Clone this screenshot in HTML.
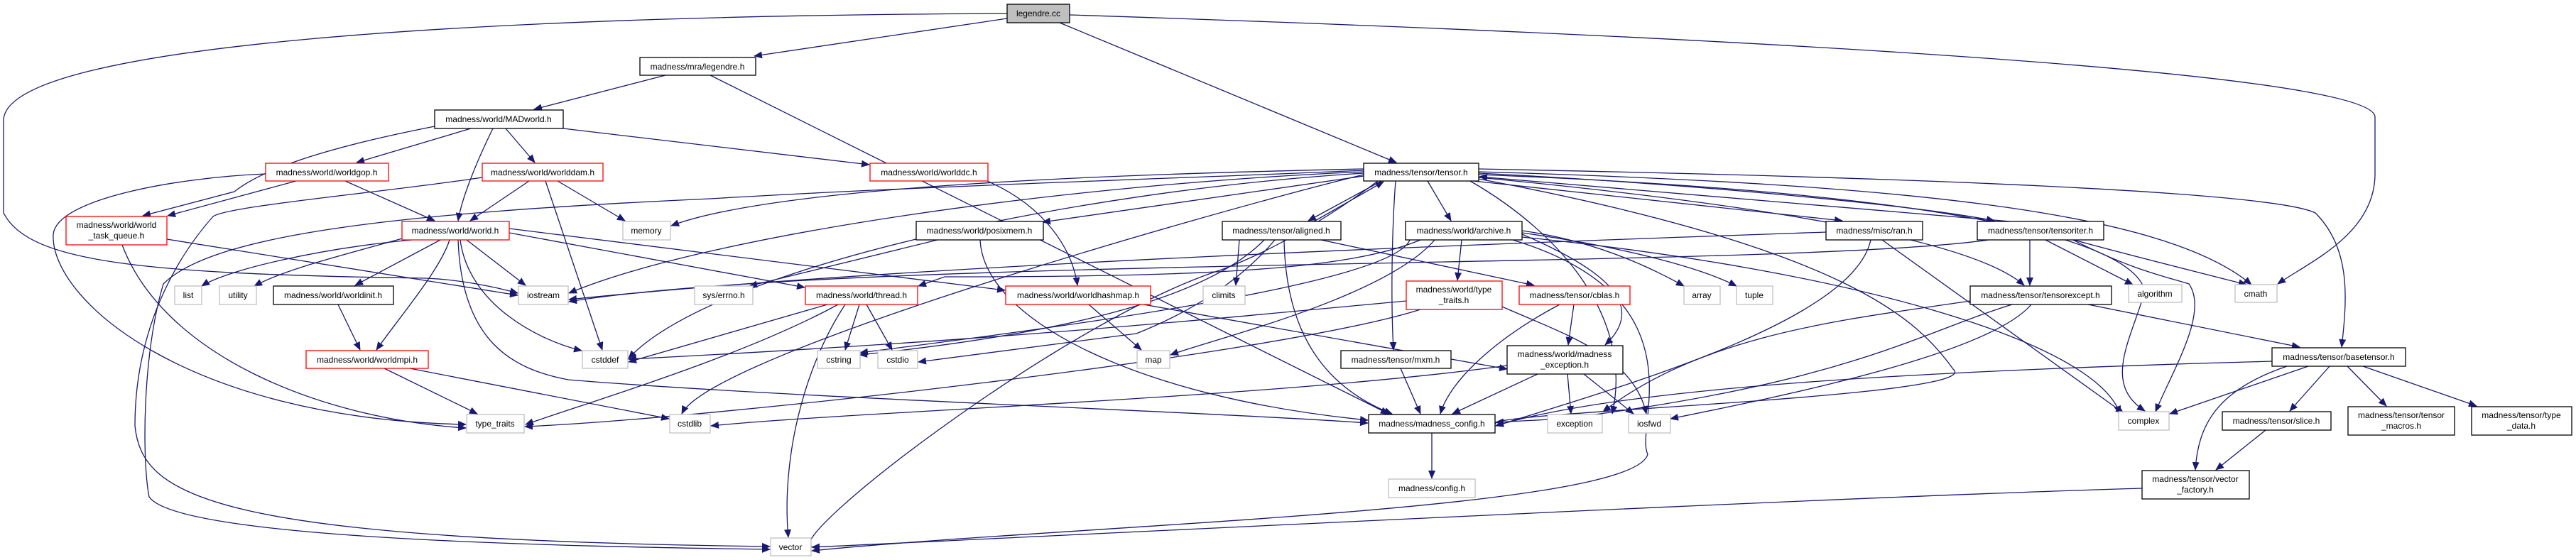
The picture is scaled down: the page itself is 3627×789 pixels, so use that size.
<!DOCTYPE html>
<html><head><meta charset="utf-8"><style>
html,body{margin:0;padding:0;background:#fff;}
svg{display:block;}
text{font-family:"Liberation Sans",sans-serif;font-size:12px;fill:#000;text-anchor:middle;}
.e{fill:none;stroke:#191970;stroke-width:1.3;marker-end:url(#a);}
.n{fill:#fff;stroke:#000;stroke-width:1.3;}
.r{fill:#fff;stroke:#ff0000;stroke-width:1.3;}
.g{fill:#fff;stroke:#bfbfbf;stroke-width:1.3;}
</style></head><body>
<svg width="3627" height="789" viewBox="0 0 3627 789" xmlns="http://www.w3.org/2000/svg">
<defs><marker id="a" markerUnits="userSpaceOnUse" markerWidth="12" markerHeight="10" refX="11" refY="5" orient="auto"><path d="M0,0 L12,5 L0,10 z" fill="#191970"/></marker></defs>
<g>
<path class="e" d="M1418,26 L1062,79"/>
<path class="e" d="M1492,32 L1966,229"/>
<path class="e" d="M1418,19 C700,22 5,60 5,170 L5,300 C40,370 200,386 600,392 C650,394 700,405 729,413"/>
<path class="e" d="M1506,21 C2400,50 3344,100 3344,165 L3344,245 C3344,330 3250,370 3207,400"/>
<path class="e" d="M937,106 L752,154"/>
<path class="e" d="M1000,106 L1955,583"/>
<path class="e" d="M663,181 L502,229"/>
<path class="e" d="M712,181 L753,229"/>
<path class="e" d="M694,181 C670,230 650,280 645,311"/>
<path class="e" d="M612,178 C500,200 380,230 330,270 L201,304"/>
<path class="e" d="M793,181 L1224,232"/>
<path class="e" d="M417,255 L236,304"/>
<path class="e" d="M486,255 L612,311"/>
<path class="e" d="M374,245 C250,250 80,280 75,330 C70,420 260,590 656,598"/>
<path class="e" d="M745,255 L662,311"/>
<path class="e" d="M785,255 L880,311"/>
<path class="e" d="M768,255 L848,493"/>
<path class="e" d="M679,250 C550,270 320,290 300,305 C260,350 190,450 190,600 C200,700 300,760 1084,770"/>
<path class="e" d="M235,337 L729,416"/>
<path class="e" d="M172,345 C230,500 450,590 656,603"/>
<path class="e" d="M580,338 C450,350 320,380 284,403"/>
<path class="e" d="M570,335 C480,360 400,380 358,403"/>
<path class="e" d="M620,338 L500,402"/>
<path class="e" d="M633,338 C620,380 560,450 530,493"/>
<path class="e" d="M657,338 L740,402"/>
<path class="e" d="M648,338 C660,430 760,480 819,494"/>
<path class="e" d="M645,338 C650,480 720,520 800,535 C1100,560 1700,580 1926,596"/>
<path class="e" d="M717,328 L1133,405"/>
<path class="e" d="M717,322 L1415,409"/>
<path class="e" d="M476,429 L507,493"/>
<path class="e" d="M541,519 L672,583"/>
<path class="e" d="M577,519 L942,590"/>
<path class="e" d="M1390,255 C1470,290 1510,350 1517,402"/>
<path class="e" d="M1920,240 C1700,250 1300,262 1000,280 C560,300 300,330 230,400 C200,500 200,650 210,700 C250,760 800,770 1084,774"/>
<path class="e" d="M1920,238 C1600,245 1100,260 945,318"/>
<path class="e" d="M1920,242 C1500,260 1000,330 801,413"/>
<path class="e" d="M1920,244 C1500,270 1000,380 885,505"/>
<path class="e" d="M1920,246 C1700,300 1000,500 960,583"/>
<path class="e" d="M1920,248 L1468,313"/>
<path class="e" d="M1945,255 L1842,311"/>
<path class="e" d="M1850,312 L1948,256"/>
<path class="e" d="M2010,255 L2043,311"/>
<path class="e" d="M1965,255 C1960,320 1958,420 1962,493"/>
<path class="e" d="M2075,255 L2594,311"/>
<path class="e" d="M2082,244 C2400,260 2700,290 2808,311"/>
<path class="e" d="M2830,312 L2083,249"/>
<path class="e" d="M2082,250 C2500,290 2780,340 2850,402"/>
<path class="e" d="M2082,242 C2700,260 3050,300 3170,401"/>
<path class="e" d="M2082,238 C2700,250 3200,270 3260,300 C3310,350 3305,420 3297,489"/>
<path class="e" d="M2082,246 C2700,270 3000,330 3020,410 C3000,480 2960,540 3020,579"/>
<path class="e" d="M2070,255 C2200,330 2300,450 2270,583"/>
<path class="e" d="M2082,252 C2600,350 2700,450 2750,520 C2800,560 2090,580 2106,597"/>
<path class="e" d="M1940,255 C1880,300 1800,350 1720,380 C1500,450 1100,760 1143,770"/>
<path class="e" d="M1320,338 L1055,403"/>
<path class="e" d="M1380,338 C1385,450 1600,560 1926,592"/>
<path class="e" d="M1745,338 L1740,402"/>
<path class="e" d="M1808,338 C1810,450 1850,540 1960,583"/>
<path class="e" d="M1860,338 L2160,402"/>
<path class="e" d="M1780,338 C1700,420 1500,470 1210,500"/>
<path class="e" d="M1795,338 C1760,380 1700,430 1600,470 L1293,510"/>
<path class="e" d="M2058,338 L2052,395"/>
<path class="e" d="M2000,338 C1900,380 1700,390 1330,390 L1293,403"/>
<path class="e" d="M2020,338 C1950,420 1700,480 1648,500"/>
<path class="e" d="M2143,325 C2250,340 2330,380 2371,403"/>
<path class="e" d="M2143,328 C2300,350 2400,380 2445,403"/>
<path class="e" d="M2143,330 C2260,380 2320,430 2260,486"/>
<path class="e" d="M2143,334 C2600,380 2950,480 2985,583"/>
<path class="e" d="M2130,338 C2400,420 2300,600 2320,640 C2300,720 1500,740 1143,776"/>
<path class="e" d="M1985,338 C1960,400 1500,460 1211,497"/>
<path class="e" d="M1210,429 L1190,493"/>
<path class="e" d="M1220,429 L1256,493"/>
<path class="e" d="M1190,429 C1130,520 1100,650 1110,757"/>
<path class="e" d="M1165,429 L885,510"/>
<path class="e" d="M1180,429 C1050,500 850,560 740,598"/>
<path class="e" d="M1533,429 L1607,493"/>
<path class="e" d="M1610,429 L2122,520"/>
<path class="e" d="M1980,424 C1700,450 1400,480 885,506"/>
<path class="e" d="M2000,436 C1800,500 1000,590 739,601"/>
<path class="e" d="M2115,432 C2200,470 2300,500 2318,583"/>
<path class="e" d="M2196,429 C2100,480 2040,540 2028,583"/>
<path class="e" d="M2216,429 L2208,486"/>
<path class="e" d="M2165,527 L2045,583"/>
<path class="e" d="M2207,527 L2212,583"/>
<path class="e" d="M2230,527 L2300,583"/>
<path class="e" d="M2122,515 C1800,560 1200,580 1001,600"/>
<path class="e" d="M1972,519 L2000,583"/>
<path class="e" d="M2016,610 L2016,674"/>
<path class="e" d="M2571,327 C2200,340 1300,370 801,422"/>
<path class="e" d="M2650,338 L2990,582"/>
<path class="e" d="M2634,338 C2610,450 2300,540 2106,600"/>
<path class="e" d="M2800,338 C2500,380 1200,360 801,425"/>
<path class="e" d="M2858,338 L2858,402"/>
<path class="e" d="M2880,338 L3003,401"/>
<path class="e" d="M2920,338 C3000,360 3120,390 3163,401"/>
<path class="e" d="M2915,336 C3000,380 3050,390 3082,400 C3110,440 3060,520 3035,580"/>
<path class="e" d="M2833,429 C2700,470 2600,540 2200,590 L2106,595"/>
<path class="e" d="M2860,429 C2800,500 2500,560 2352,590"/>
<path class="e" d="M2940,429 L3238,489"/>
<path class="e" d="M2774,424 C2600,450 2400,470 2257,580"/>
<path class="e" d="M3250,516 L3055,583"/>
<path class="e" d="M3199,509 C2800,520 2300,540 2106,600"/>
<path class="e" d="M3280,516 L3224,579"/>
<path class="e" d="M3305,516 L3360,572"/>
<path class="e" d="M3327,516 L3487,572"/>
<path class="e" d="M3220,516 C3120,550 3095,600 3091,662"/>
<path class="e" d="M3190,606 L3120,662"/>
<path class="e" d="M3016,688 C2600,700 1800,740 1143,771"/>
</g>
<g>
<rect x="1418" y="6" width="88" height="26" fill="#bfbfbf" stroke="#000" stroke-width="1.3"/><text x="1462" y="23">legendre.cc</text>
<rect class="n" x="901" y="81" width="163" height="25"/><text x="982" y="98">madness/mra/legendre.h</text>
<rect class="n" x="612" y="155" width="181" height="26"/><text x="702" y="172">madness/world/MADworld.h</text>
<rect class="r" x="374" y="230" width="173" height="25"/><text x="460" y="247">madness/world/worldgop.h</text>
<rect class="r" x="679" y="230" width="170" height="25"/><text x="764" y="247">madness/world/worlddam.h</text>
<rect class="r" x="1225" y="230" width="166" height="25"/><text x="1308" y="247">madness/world/worlddc.h</text>
<rect class="n" x="1920" y="230" width="162" height="25"/><text x="2001" y="247">madness/tensor/tensor.h</text>
<rect class="r" x="93" y="305" width="142" height="40"/><text x="164" y="321">madness/world/world</text><text x="164" y="336">_task_queue.h</text>
<rect class="r" x="566" y="312" width="151" height="26"/><text x="641" y="329">madness/world/world.h</text>
<rect class="g" x="877" y="312" width="67" height="26"/><text x="910" y="329">memory</text>
<rect class="n" x="1290" y="312" width="179" height="26"/><text x="1379" y="329">madness/world/posixmem.h</text>
<rect class="n" x="1721" y="312" width="167" height="26"/><text x="1804" y="329">madness/tensor/aligned.h</text>
<rect class="n" x="1979" y="312" width="164" height="26"/><text x="2061" y="329">madness/world/archive.h</text>
<rect class="n" x="2571" y="312" width="136" height="26"/><text x="2639" y="329">madness/misc/ran.h</text>
<rect class="n" x="2784" y="312" width="178" height="26"/><text x="2873" y="329">madness/tensor/tensoriter.h</text>
<rect class="g" x="246" y="403" width="38" height="26"/><text x="265" y="420">list</text>
<rect class="g" x="309" y="403" width="52" height="26"/><text x="335" y="420">utility</text>
<rect class="n" x="385" y="403" width="169" height="26"/><text x="469" y="420">madness/world/worldinit.h</text>
<rect class="g" x="730" y="403" width="70" height="26"/><text x="765" y="420">iostream</text>
<rect class="g" x="978" y="403" width="82" height="26"/><text x="1019" y="420">sys/errno.h</text>
<rect class="r" x="1134" y="403" width="158" height="26"/><text x="1213" y="420">madness/world/thread.h</text>
<rect class="r" x="1416" y="403" width="204" height="26"/><text x="1518" y="420">madness/world/worldhashmap.h</text>
<rect class="g" x="1694" y="403" width="59" height="26"/><text x="1723" y="420">climits</text>
<rect class="r" x="1980" y="396" width="135" height="40"/><text x="2047" y="412">madness/world/type</text><text x="2047" y="427">_traits.h</text>
<rect class="r" x="2139" y="403" width="156" height="26"/><text x="2217" y="420">madness/tensor/cblas.h</text>
<rect class="g" x="2371" y="403" width="51" height="26"/><text x="2396" y="420">array</text>
<rect class="g" x="2445" y="403" width="51" height="26"/><text x="2470" y="420">tuple</text>
<rect class="n" x="2774" y="403" width="199" height="26"/><text x="2873" y="420">madness/tensor/tensorexcept.h</text>
<rect class="g" x="2997" y="401" width="75" height="25"/><text x="3034" y="418">algorithm</text>
<rect class="g" x="3147" y="401" width="59" height="25"/><text x="3176" y="418">cmath</text>
<rect class="r" x="431" y="494" width="172" height="25"/><text x="517" y="511">madness/world/worldmpi.h</text>
<rect class="g" x="820" y="494" width="64" height="25"/><text x="852" y="511">cstddef</text>
<rect class="g" x="1151" y="494" width="60" height="25"/><text x="1181" y="511">cstring</text>
<rect class="g" x="1236" y="494" width="56" height="25"/><text x="1264" y="511">cstdio</text>
<rect class="g" x="1601" y="494" width="46" height="25"/><text x="1624" y="511">map</text>
<rect class="n" x="1888" y="494" width="155" height="25"/><text x="1965" y="511">madness/tensor/mxm.h</text>
<rect class="n" x="2122" y="487" width="163" height="40"/><text x="2203" y="503">madness/world/madness</text><text x="2203" y="518">_exception.h</text>
<rect class="n" x="3199" y="490" width="188" height="26"/><text x="3293" y="507">madness/tensor/basetensor.h</text>
<rect class="g" x="657" y="584" width="81" height="26"/><text x="697" y="601">type_traits</text>
<rect class="g" x="943" y="584" width="57" height="26"/><text x="971" y="601">cstdlib</text>
<rect class="n" x="1927" y="584" width="178" height="26"/><text x="2016" y="601">madness/madness_config.h</text>
<rect class="g" x="2179" y="584" width="77" height="26"/><text x="2217" y="601">exception</text>
<rect class="g" x="2293" y="584" width="59" height="26"/><text x="2322" y="601">iosfwd</text>
<rect class="g" x="2983" y="580" width="71" height="26"/><text x="3018" y="597">complex</text>
<rect class="n" x="3129" y="580" width="153" height="26"/><text x="3205" y="597">madness/tensor/slice.h</text>
<rect class="n" x="3306" y="573" width="150" height="40"/><text x="3381" y="589">madness/tensor/tensor</text><text x="3381" y="604">_macros.h</text>
<rect class="n" x="3480" y="573" width="141" height="40"/><text x="3550" y="589">madness/tensor/type</text><text x="3550" y="604">_data.h</text>
<rect class="g" x="1955" y="675" width="122" height="26"/><text x="2016" y="692">madness/config.h</text>
<rect class="n" x="3016" y="663" width="151" height="40"/><text x="3091" y="679">madness/tensor/vector</text><text x="3091" y="694">_factory.h</text>
<rect class="g" x="1085" y="758" width="57" height="25"/><text x="1113" y="775">vector</text>
</g>
</svg>
</body></html>
